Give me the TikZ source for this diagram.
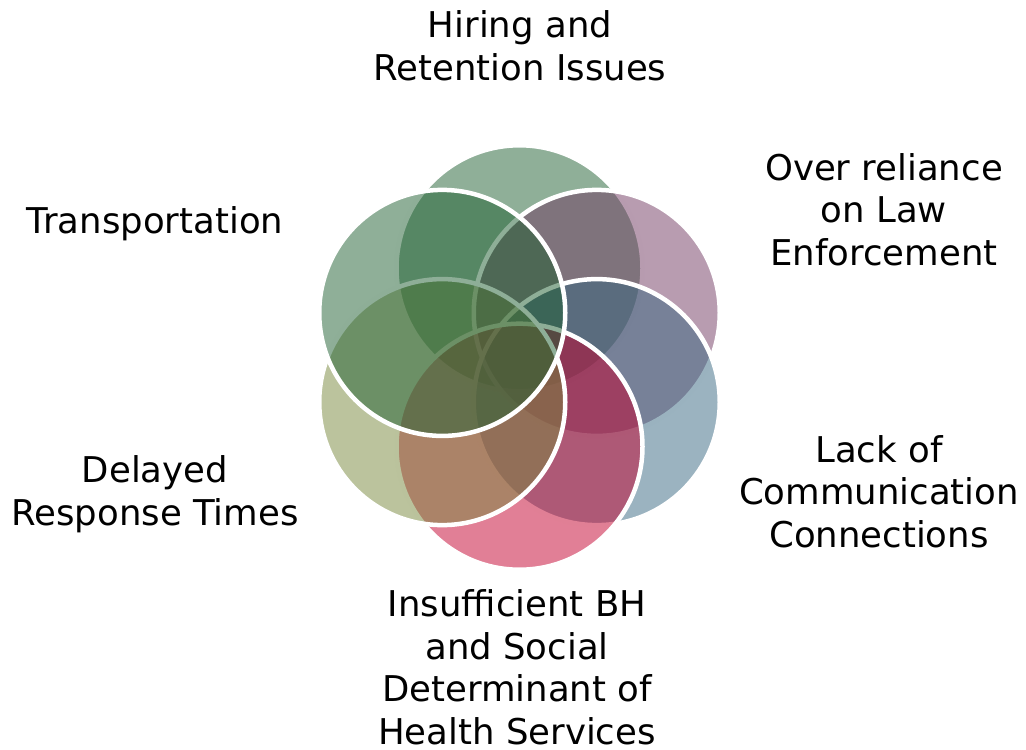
\documentclass[tikz,border=0pt]{standalone}
\usepackage{fontspec}
\setmainfont{DejaVu Sans}
\usepackage{xcolor}
\usepackage{tikz}

% petal colours, laid on at half opacity
\definecolor{hiregreen}{RGB}{31,95,49}
\definecolor{relymauve}{RGB}{113,57,97}
\definecolor{commblue}{RGB}{55,103,129}
\definecolor{healthpink}{RGB}{195,0,45}
\definecolor{delayolive}{RGB}{119,135,59}

\begin{document}
\begin{tikzpicture}[x=1pt,y=-1pt,
  petal/.style={draw=white,line width=4.5pt,fill opacity=0.5},
  lbl/.style={font=\fontsize{35.5}{42.5}\selectfont,align=center,anchor=base}]
  \useasboundingbox (0,0) rectangle (1026,750);
  % six petals round the hub, clockwise from the top
  \coordinate (hub) at (519.5,357.5);
  \foreach \ang/\col in {-90/hiregreen,-30/relymauve,30/commblue,90/healthpink,150/delayolive,210/hiregreen}{
    \draw[petal,fill=\col] (hub) ++(\ang:89.2) circle (123);
  }
  % labels (base = last line)
  \node[lbl] (hiring) at (520,80) {Hiring and\\Retention Issues};
  \node[lbl] (reliance) at (884,265) {Over reliance\\on Law\\Enforcement};
  \node[lbl] (comms) at (879,547) {Lack of\\Communication\\Connections};
  \node[lbl] (services) at (517,744) {Insufficient BH\\and Social\\Determinant of\\Health Services};
  \node[lbl] (delays) at (155,525) {Delayed\\Response Times};
  \node[lbl] (transport) at (155,233.3) {Transportation};
\end{tikzpicture}
\end{document}
